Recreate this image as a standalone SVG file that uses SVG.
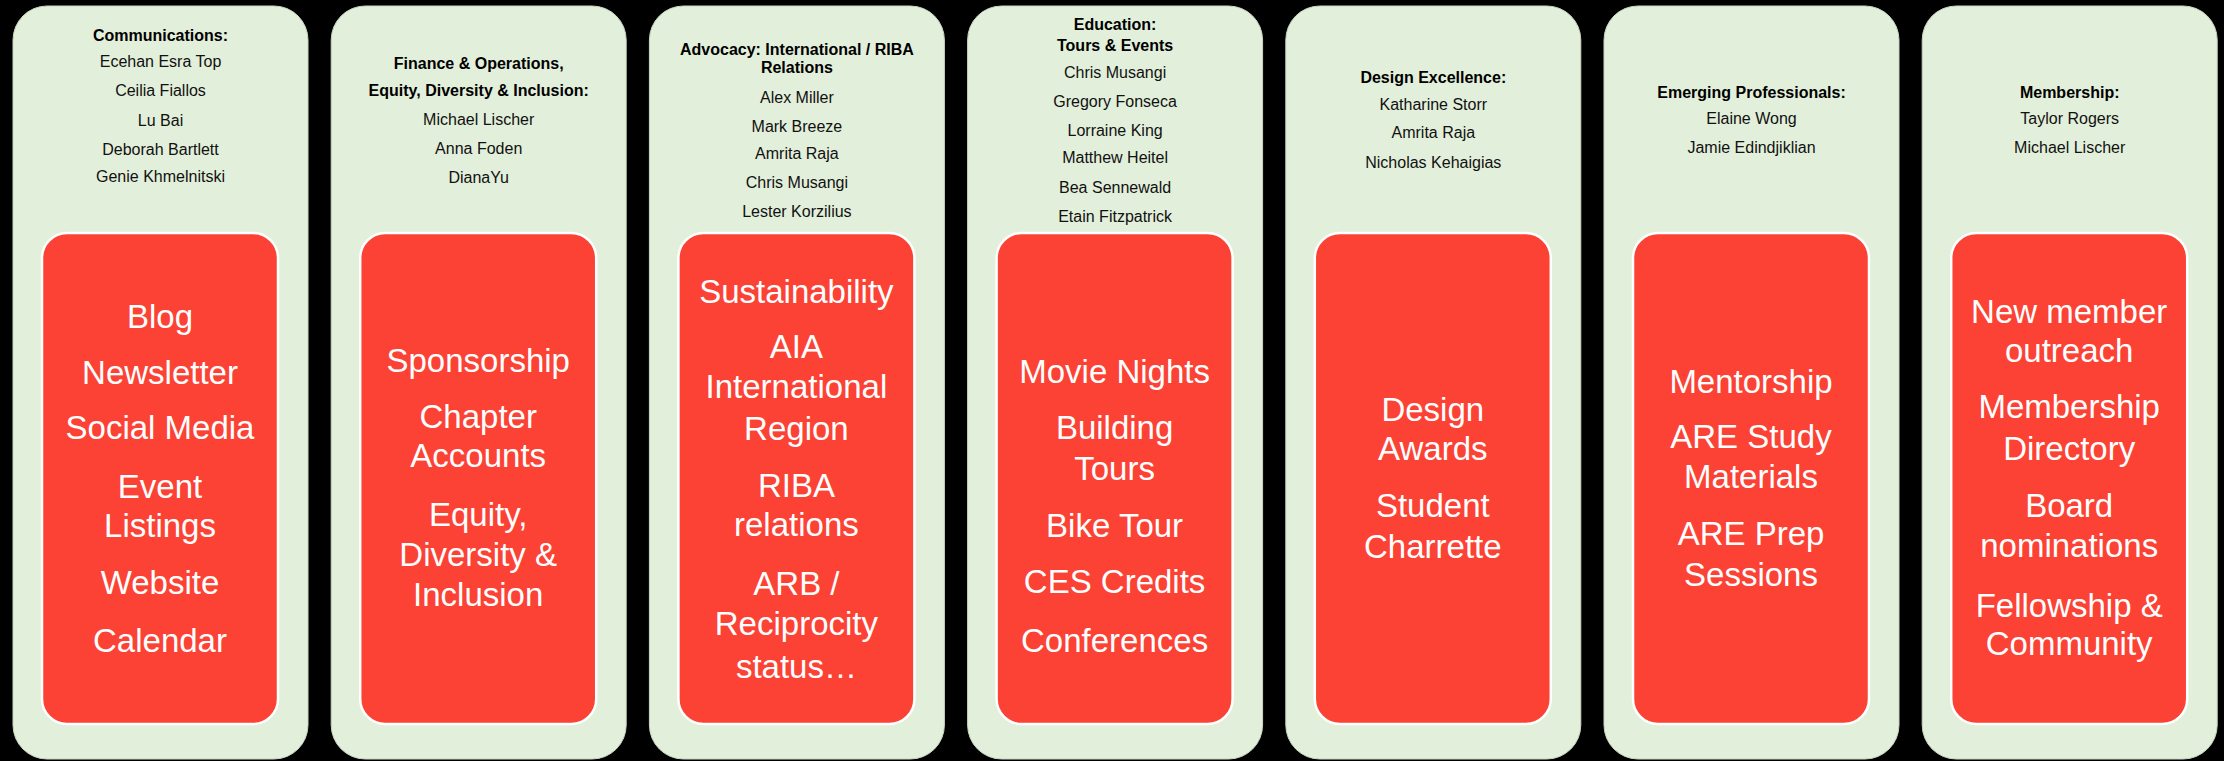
<svg xmlns="http://www.w3.org/2000/svg" width="2224" height="761" viewBox="0 0 2224 761">
<style>
.panel{fill:#E2EFDA;stroke:#C9D6C2;stroke-width:1}
.box{fill:#FC4234;stroke:#FFFFFF;stroke-width:2.5}
.hd{font-family:"Liberation Sans",Arial,sans-serif;font-weight:bold;font-size:16px;fill:#000;text-anchor:middle}
.nm{font-family:"Liberation Sans",Arial,sans-serif;font-size:16px;fill:#111;text-anchor:middle}
.it{font-family:"Liberation Sans",Arial,sans-serif;font-size:33px;fill:#FFFFFF;text-anchor:middle}
</style>
<rect x="0" y="0" width="2224" height="761" fill="#000"/>
<g id="connectors"/>

<g id="col-communications">
<rect class="panel" x="13" y="6" width="295" height="753" rx="34"/>
<text class="hd" x="160.5" y="41">Communications:</text>
<text class="nm" x="160.5" y="67">Ecehan Esra Top</text>
<text class="nm" x="160.5" y="96">Ceilia Fiallos</text>
<text class="nm" x="160.5" y="126">Lu Bai</text>
<text class="nm" x="160.5" y="155">Deborah Bartlett</text>
<text class="nm" x="160.5" y="182">Genie Khmelnitski</text>
<g id="tasks-communications">
<rect class="box" x="42" y="233" width="236" height="491" rx="25"/>
<text class="it" x="160" y="328">Blog</text>
<text class="it" x="160" y="384">Newsletter</text>
<text class="it" x="160" y="439">Social Media</text>
<text class="it" x="160" y="498">Event</text>
<text class="it" x="160" y="537">Listings</text>
<text class="it" x="160" y="594">Website</text>
<text class="it" x="160" y="652">Calendar</text>
</g>
</g>

<g id="col-finance">
<rect class="panel" x="331.2" y="6" width="295" height="753" rx="34"/>
<text class="hd" x="478.7" y="69">Finance &amp; Operations,</text>
<text class="hd" x="478.7" y="96">Equity, Diversity &amp; Inclusion:</text>
<text class="nm" x="478.7" y="125">Michael Lischer</text>
<text class="nm" x="478.7" y="154">Anna Foden</text>
<text class="nm" x="478.7" y="183">DianaYu</text>
<g id="tasks-finance">
<rect class="box" x="360.2" y="233" width="236" height="491" rx="25"/>
<text class="it" x="478.2" y="372">Sponsorship</text>
<text class="it" x="478.2" y="428">Chapter</text>
<text class="it" x="478.2" y="467">Accounts</text>
<text class="it" x="478.2" y="526">Equity,</text>
<text class="it" x="478.2" y="566">Diversity &amp;</text>
<text class="it" x="478.2" y="606">Inclusion</text>
</g>
</g>

<g id="col-advocacy">
<rect class="panel" x="649.4" y="6" width="295" height="753" rx="34"/>
<text class="hd" x="796.9" y="55">Advocacy: International / RIBA</text>
<text class="hd" x="796.9" y="73">Relations</text>
<text class="nm" x="796.9" y="103">Alex Miller</text>
<text class="nm" x="796.9" y="132">Mark Breeze</text>
<text class="nm" x="796.9" y="159">Amrita Raja</text>
<text class="nm" x="796.9" y="188">Chris Musangi</text>
<text class="nm" x="796.9" y="217">Lester Korzilius</text>
<g id="tasks-advocacy">
<rect class="box" x="678.4" y="233" width="236" height="491" rx="25"/>
<text class="it" x="796.4" y="303">Sustainability</text>
<text class="it" x="796.4" y="358">AIA</text>
<text class="it" x="796.4" y="398">International</text>
<text class="it" x="796.4" y="440">Region</text>
<text class="it" x="796.4" y="497">RIBA</text>
<text class="it" x="796.4" y="536">relations</text>
<text class="it" x="796.4" y="595">ARB /</text>
<text class="it" x="796.4" y="635">Reciprocity</text>
<text class="it" x="796.4" y="678">status…</text>
</g>
</g>

<g id="col-education">
<rect class="panel" x="967.6" y="6" width="295" height="753" rx="34"/>
<text class="hd" x="1115.1" y="30">Education:</text>
<text class="hd" x="1115.1" y="51">Tours &amp; Events</text>
<text class="nm" x="1115.1" y="78">Chris Musangi</text>
<text class="nm" x="1115.1" y="107">Gregory Fonseca</text>
<text class="nm" x="1115.1" y="136">Lorraine King</text>
<text class="nm" x="1115.1" y="163">Matthew Heitel</text>
<text class="nm" x="1115.1" y="193">Bea Sennewald</text>
<text class="nm" x="1115.1" y="222">Etain Fitzpatrick</text>
<g id="tasks-education">
<rect class="box" x="996.6" y="233" width="236" height="491" rx="25"/>
<text class="it" x="1114.6" y="383">Movie Nights</text>
<text class="it" x="1114.6" y="439">Building</text>
<text class="it" x="1114.6" y="480">Tours</text>
<text class="it" x="1114.6" y="537">Bike Tour</text>
<text class="it" x="1114.6" y="593">CES Credits</text>
<text class="it" x="1114.6" y="652">Conferences</text>
</g>
</g>

<g id="col-design">
<rect class="panel" x="1285.8" y="6" width="295" height="753" rx="34"/>
<text class="hd" x="1433.3" y="83">Design Excellence:</text>
<text class="nm" x="1433.3" y="110">Katharine Storr</text>
<text class="nm" x="1433.3" y="138">Amrita Raja</text>
<text class="nm" x="1433.3" y="168">Nicholas Kehaigias</text>
<g id="tasks-design">
<rect class="box" x="1314.8" y="233" width="236" height="491" rx="25"/>
<text class="it" x="1432.8" y="421">Design</text>
<text class="it" x="1432.8" y="460">Awards</text>
<text class="it" x="1432.8" y="517">Student</text>
<text class="it" x="1432.8" y="558">Charrette</text>
</g>
</g>

<g id="col-emerging">
<rect class="panel" x="1604" y="6" width="295" height="753" rx="34"/>
<text class="hd" x="1751.5" y="98">Emerging Professionals:</text>
<text class="nm" x="1751.5" y="124">Elaine Wong</text>
<text class="nm" x="1751.5" y="153">Jamie Edindjiklian</text>
<g id="tasks-emerging">
<rect class="box" x="1633" y="233" width="236" height="491" rx="25"/>
<text class="it" x="1751" y="393">Mentorship</text>
<text class="it" x="1751" y="448">ARE Study</text>
<text class="it" x="1751" y="488">Materials</text>
<text class="it" x="1751" y="545">ARE Prep</text>
<text class="it" x="1751" y="586">Sessions</text>
</g>
</g>

<g id="col-membership">
<rect class="panel" x="1922.2" y="6" width="295" height="753" rx="34"/>
<text class="hd" x="2069.7" y="98">Membership:</text>
<text class="nm" x="2069.7" y="124">Taylor Rogers</text>
<text class="nm" x="2069.7" y="153">Michael Lischer</text>
<g id="tasks-membership">
<rect class="box" x="1951.2" y="233" width="236" height="491" rx="25"/>
<text class="it" x="2069.2" y="323">New member</text>
<text class="it" x="2069.2" y="362">outreach</text>
<text class="it" x="2069.2" y="418">Membership</text>
<text class="it" x="2069.2" y="460">Directory</text>
<text class="it" x="2069.2" y="517">Board</text>
<text class="it" x="2069.2" y="557">nominations</text>
<text class="it" x="2069.2" y="617">Fellowship &amp;</text>
<text class="it" x="2069.2" y="655">Community</text>
</g>
</g>
</svg>
